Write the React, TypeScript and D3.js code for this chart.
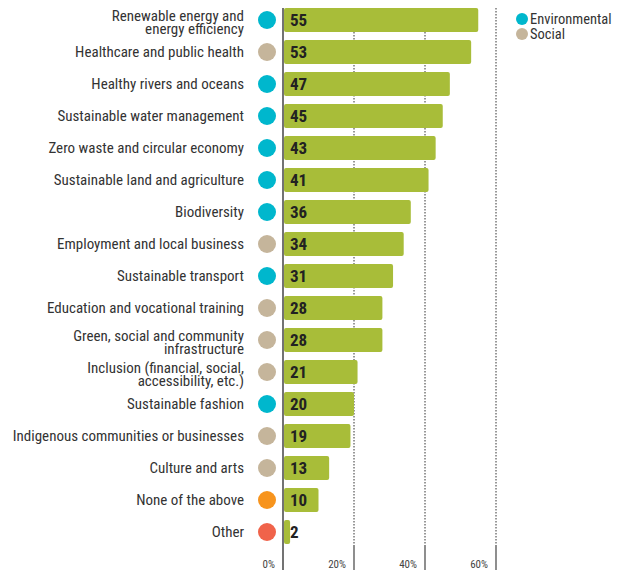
import React from "react";
import * as d3 from "d3";

const categories = [
  "Renewable energy and\nenergy efficiency",
  "Healthcare and public health",
  "Healthy rivers and oceans",
  "Sustainable water management",
  "Zero waste and circular economy",
  "Sustainable land and agriculture",
  "Biodiversity",
  "Employment and local business",
  "Sustainable transport",
  "Education and vocational training",
  "Green, social and community\ninfrastructure",
  "Inclusion (financial, social,\naccessibility, etc.)",
  "Sustainable fashion",
  "Indigenous communities or businesses",
  "Culture and arts",
  "None of the above",
  "Other",
];
const values = [55, 53, 47, 45, 43, 41, 36, 34, 31, 28, 28, 21, 20, 19, 13, 10, 2];
const groups = [
  "env", "soc", "env", "env", "env", "env", "env", "soc", "env", "soc", "soc", "soc", "env", "soc", "soc", "none", "other",
];
const ticks = [0, 20, 40, 60];
const legendItems = [
  { key: "env", label: "Environmental" },
  { key: "soc", label: "Social" },
];

const colors: Record<string, string> = {
  env: "#00b7cd",
  soc: "#c5b59b",
  none: "#f7941d",
  other: "#f0634a",
};
const barColor = "#a8bd39";
const font = "'Roboto Condensed', 'Liberation Sans Narrow', 'DejaVu Sans Condensed', Roboto, sans-serif";

export default function App() {
  const W = 628;
  const H = 574;
  const x = d3.scaleLinear().domain([0, 60]).range([283, 496]);
  const y = d3
    .scaleBand<number>()
    .domain(d3.range(categories.length))
    .range([4, 548])
    .paddingInner(0.25)
    .paddingOuter(0.125);
  const bw = y.bandwidth();

  return (
    <svg
      width={W}
      height={H}
      style={{ position: "absolute", left: 0, top: 0 }}
      fontFamily={font}
    >
      {/* grid */}
      {ticks.map((t) => (
        <g key={t}>
          {t !== 0 && (
            <line
              x1={x(t)}
              x2={x(t)}
              y1={8}
              y2={545}
              stroke="#333"
              strokeWidth={1}
              strokeDasharray="1.5,1.5"
            />
          )}
          <line x1={x(t)} x2={x(t)} y1={t === 0 ? 8 : 545} y2={570} stroke="#444" strokeWidth={t === 0 ? 1.5 : 1.2} />
          <text
            x={x(t) - 8}
            y={568}
            textAnchor="end"
            fontSize={11}
            fill="#444"
            style={{ fontStretch: "condensed" }}
          >
            {t}%
          </text>
        </g>
      ))}
      {/* bars */}
      {values.map((v, i) => {
        const yy = y(i)!;
        const lines = categories[i].split("\n");
        const n = lines.length;
        return (
          <g key={i}>
            <rect
              x={x(0) + 1}
              y={yy}
              width={Math.max(0, x(v) - x(0) - 1)}
              height={bw}
              rx={2}
              fill={barColor}
            />
            <text
              x={x(0) + 7}
              y={yy + bw / 2 + 6}
              fontSize={17}
              fontWeight="bold"
              fill="#222"
              style={{ fontStretch: "condensed" }}
            >
              {v}
            </text>
            <circle cx={267} cy={yy + bw / 2} r={9} fill={colors[groups[i]]} />
            {lines.map((l, j) => (
              <text
                key={j}
                x={244}
                y={yy + bw / 2 + 5 + (j - (n - 1) / 2) * 13 + (n > 1 ? 2 : 0)}
                textAnchor="end"
                fontSize={15}
                fill="#333"
                style={{ fontStretch: "condensed" }}
              >
                {l}
              </text>
            ))}
          </g>
        );
      })}
      {/* legend */}
      {legendItems.map((it, i) => (
        <g key={it.key}>
          <circle cx={522} cy={19 + i * 15} r={6} fill={colors[it.key]} />
          <text x={530} y={24 + i * 15} fontSize={14.5} fill="#333" style={{ fontStretch: "condensed" }}>
            {it.label}
          </text>
        </g>
      ))}
    </svg>
  );
}
